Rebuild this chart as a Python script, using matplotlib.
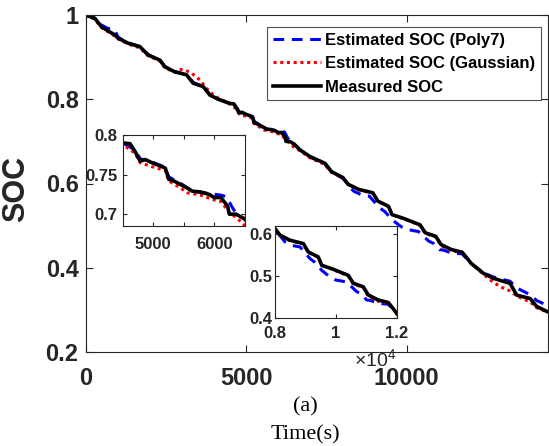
import matplotlib
matplotlib.use("Agg")
import matplotlib.pyplot as plt

# ---- data ----
meas_t = [0, 290, 498, 913, 1016, 1328, 1692, 1950, 2315, 2470, 2782, 3146, 3352, 3664,
          3872, 4130, 4500, 4620, 4703, 4785, 4868, 4978, 5143, 5198, 5253, 5335, 5446,
          5556, 5638, 5776, 5913, 5995, 6106, 6216, 6243, 6353, 6490, 6676, 6988, 7455,
          7663, 8016, 8180, 8507, 8943, 9106, 9434, 9545, 9872, 10144, 10416, 10580,
          10907, 11070, 11398, 11725, 11836, 12000, 12386, 12698, 13218, 13427, 13842,
          14050, 14400]
meas_soc = [1.000, 0.992, 0.972, 0.9525, 0.945, 0.933, 0.925, 0.905, 0.893, 0.877, 0.865,
            0.858, 0.838, 0.830, 0.810, 0.800, 0.790, 0.789, 0.779, 0.767, 0.769, 0.765,
            0.760, 0.758, 0.744, 0.742, 0.7375, 0.733, 0.729, 0.728, 0.725, 0.721, 0.721,
            0.710, 0.700, 0.700, 0.694, 0.680, 0.664, 0.648, 0.628, 0.614, 0.598, 0.586,
            0.578, 0.558, 0.546, 0.526, 0.518, 0.510, 0.502, 0.483, 0.4745, 0.455, 0.443,
            0.437, 0.427, 0.411, 0.387, 0.375, 0.363, 0.335, 0.327, 0.308, 0.295]

poly_t = [0, 290, 498, 700, 900, 1016, 1328, 1692, 1950, 2315, 2470, 2782, 3146, 3352,
          3664, 3872, 4130, 4500, 4703, 4785, 4978, 5198, 5253, 5446, 5638, 5913, 6106,
          6200, 6280, 6353, 6490, 6676, 6988, 7455, 7663, 8016, 8344, 8598, 8835, 9162,
          9324, 9545, 9817, 10000, 10363, 10690, 10830, 11018, 11140, 11398, 11725, 11836,
          12000, 12386, 12698, 13000, 13218, 13427, 13842, 14050, 14400]
poly_soc = [1.000, 0.993, 0.976, 0.968, 0.966, 0.947, 0.934, 0.925, 0.906, 0.893, 0.878,
            0.866, 0.858, 0.840, 0.830, 0.811, 0.800, 0.790, 0.781, 0.770, 0.766, 0.759,
            0.747, 0.739, 0.729, 0.726, 0.724, 0.722, 0.710, 0.701, 0.694, 0.680, 0.663,
            0.646, 0.627, 0.612, 0.582, 0.573, 0.570, 0.542, 0.533, 0.514, 0.498, 0.491,
            0.486, 0.463, 0.458, 0.443, 0.442, 0.435, 0.433, 0.424, 0.410, 0.388, 0.378,
            0.372, 0.368, 0.352, 0.336, 0.322, 0.310]

gauss_t = [0, 290, 498, 913, 1016, 1328, 1692, 1950, 2315, 2470, 2782, 2885, 3093, 3302,
           3560, 3768, 3925, 4130, 4500, 4703, 4785, 4978, 5198, 5253, 5446, 5556, 5776,
           5995, 6106, 6243, 6353, 6490, 6676, 6988, 7455, 7663, 8016, 8180, 8507, 8943,
           9106, 9434, 9545, 9872, 10144, 10416, 10580, 10907, 11070, 11398, 11725, 11836,
           12000, 12386, 12600, 12910, 13218, 13427, 13842, 14050, 14400]
gauss_soc = [1.000, 0.990, 0.970, 0.950, 0.943, 0.931, 0.922, 0.903, 0.891, 0.875, 0.864,
             0.871, 0.8695, 0.862, 0.846, 0.826, 0.814, 0.803, 0.788, 0.777, 0.765, 0.760,
             0.755, 0.742, 0.733, 0.727, 0.724, 0.718, 0.716, 0.702, 0.696, 0.686, 0.678,
             0.661, 0.645, 0.626, 0.613, 0.597, 0.585, 0.577, 0.557, 0.545, 0.526, 0.517,
             0.509, 0.500, 0.481, 0.473, 0.452, 0.440, 0.436, 0.426, 0.411, 0.385, 0.371,
             0.355, 0.345, 0.333, 0.319, 0.305, 0.294]

labels = ["Estimated SOC (Poly7)", "Estimated SOC (Gaussian)", "Measured SOC"]
main_xticks = [0, 5000, 10000]
main_yticks = [0.2, 0.4, 0.6, 0.8, 1.0]
main_yticklabels = ["0.2", "0.4", "0.6", "0.8", "1"]
in1_xticks = [5000, 5500, 6000]
in1_xticklabels = ["5000", "", "6000"]
in1_yticks = [0.7, 0.75, 0.8]
in1_yticklabels = ["0.7", "0.75", "0.8"]
in2_xticks = [8000, 10000, 12000]
in2_xticklabels = ["0.8", "1", "1.2"]
in2_yticks = [0.4, 0.5, 0.6]
in2_yticklabels = ["0.4", "0.5", "0.6"]

# ---- style ----
SANS = "Liberation Sans"
SERIF = "Liberation Serif"
GRAY = "#262626"
plt.rcParams["font.family"] = [SANS, "DejaVu Sans"]

fig = plt.figure(figsize=(5.49, 4.46), dpi=100)


def draw_lines(ax, lw_scale=1.0):
    ax.plot(poly_t, poly_soc, color=(0, 0, 1), lw=2.2 * lw_scale,
            linestyle=(0, (3.5, 2.5)), label=labels[0])
    ax.plot(gauss_t, gauss_soc, color=(1, 0, 0), lw=2.2 * lw_scale,
            linestyle=(0, (1, 1.2)), label=labels[1])
    ax.plot(meas_t, meas_soc, color="black", lw=2.6 * lw_scale,
            linestyle="-", label=labels[2])


def style_axes(ax, fs, xpad, ypad, tlen):
    for s in ax.spines.values():
        s.set_color(GRAY)
        s.set_linewidth(0.8)
    ax.tick_params(direction="in", top=True, right=True, length=tlen,
                   width=0.8, color=GRAY, labelcolor=GRAY, labelsize=fs)
    ax.tick_params(axis="x", pad=xpad)
    ax.tick_params(axis="y", pad=ypad)
    for lab in ax.get_xticklabels() + ax.get_yticklabels():
        lab.set_fontweight("bold")
        lab.set_fontfamily(SANS)


# main axes
ax = fig.add_axes([85.5 / 549, (446 - 352) / 446, 462.5 / 549, 337 / 446])
draw_lines(ax)
ax.set_xlim(0, 14400)
ax.set_ylim(0.2, 1.0)
ax.set_xticks(main_xticks)
ax.set_xticklabels([str(v) for v in main_xticks])
ax.set_yticks(main_yticks)
ax.set_yticklabels(main_yticklabels)
style_axes(ax, 17, 11, 5, 5)
ax.set_ylabel("SOC", fontsize=22, fontweight="bold", color=GRAY)
ax.yaxis.set_label_coords(-0.117, 0.484)

leg = ax.legend(loc="upper right", bbox_to_anchor=(541 / 549, 1 - 27 / 446),
                bbox_transform=fig.transFigure,
                prop={"family": SANS, "weight": "bold", "size": 12},
                frameon=True, fancybox=False, handlelength=2.9, handletextpad=0.25,
                labelspacing=0.5, borderpad=0.35, borderaxespad=0)
leg.get_frame().set_edgecolor(GRAY)
leg.get_frame().set_linewidth(0.8)
for t in leg.get_texts():
    t.set_color("black")

# inset 1
ax1 = fig.add_axes([122.7 / 549, (446 - 226) / 446, 122.3 / 549, 91 / 446])
draw_lines(ax1)
ax1.set_xlim(4500, 6500)
ax1.set_ylim(0.685, 0.8)
ax1.set_xticks(in1_xticks)
ax1.set_xticklabels(in1_xticklabels)
ax1.set_yticks(in1_yticks)
ax1.set_yticklabels(in1_yticklabels)
style_axes(ax1, 12, 8, 3.5, 3)

# inset 2
ax2 = fig.add_axes([274.5 / 549, (446 - 318) / 446, 122.2 / 549, 92 / 446])
draw_lines(ax2)
ax2.set_xlim(8000, 12000)
ax2.set_ylim(0.4, 0.62)
ax2.set_xticks(in2_xticks)
ax2.set_xticklabels(in2_xticklabels)
ax2.set_yticks(in2_yticks)
ax2.set_yticklabels(in2_yticklabels)
style_axes(ax2, 12, 6, 1.5, 3)
fig.text(396 / 549, 1 - 359 / 446, r"$\mathregular{\times10^{4}}$", ha="right",
         va="center", fontsize=14, color=GRAY, family=SANS)

# captions
fig.text(305 / 549, 1 - 407 / 446, "(a)", ha="center", va="center",
         fontsize=16, family=SERIF, color="black")
fig.text(305 / 549, 1 - 435 / 446, "Time(s)", ha="center", va="center",
         fontsize=16, family=SERIF, color="black")

fig.savefig("out.png", dpi=100)
